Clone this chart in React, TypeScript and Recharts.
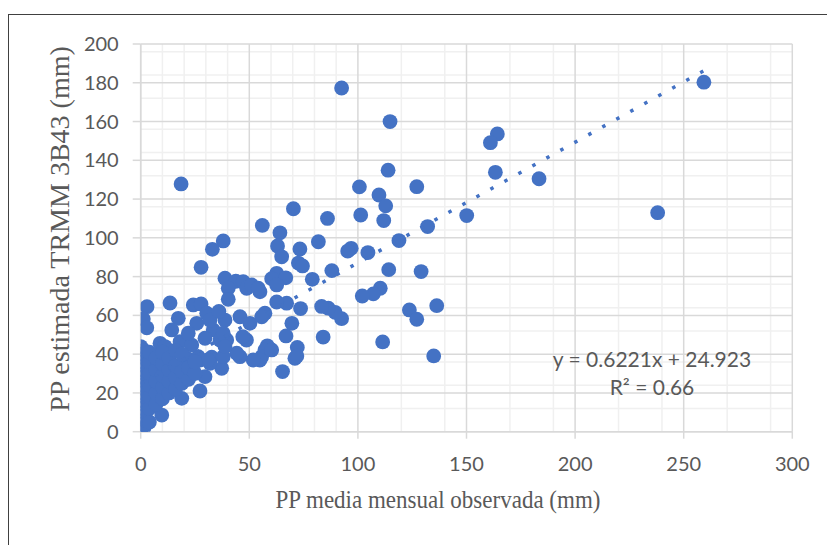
import { ScatterChart, Scatter, XAxis, YAxis, CartesianGrid } from 'recharts';

// PP media mensual observada (mm)
const observed = [
  92.5, 259.3, 18.6, 114.8, 164.2, 161.0, 163.3, 183.4, 113.9, 100.7,
  127.1, 109.7, 112.8, 70.3, 101.3, 111.9, 150.1, 238.0, 132.1, 86.0,
  56.0, 64.1, 81.8, 118.9, 38.0, 96.9, 95.3, 104.6, 73.3, 63.0,
  33.0, 64.9, 72.6, 74.5, 88.0, 114.2, 129.1, 27.8, 79.0, 62.6,
  66.8, 60.3, 38.8, 43.8, 47.2, 110.3, 107.1, 102.0, 123.7, 127.1,
  136.3, 111.4, 134.9, 84.0, 92.5, 89.5, 86.4, 83.3, 73.6, 67.2,
  62.6, 69.6, 66.9, 72.1, 71.0, 71.9, 65.3, 58.3, 57.2, 55.7,
  54.9, 51.8, 45.7, 48.7, 45.7, 50.3, 57.2, 55.7, 48.8, 54.9,
  62.6, 51.1, 54.1, 40.3, 40.3, 60.3,
  2.9, 1.2, 2.8, 13.5, 24.2, 27.8, 17.3, 30.4, 14.3, 25.8,
  38.8, 33.4, 39.6, 8.9, 0.0, 21.2, 32.7, 37.3, 29.6, 27.3,
  18.9, 9.7, 0.5, 44.2, 38.0, 36.5, 38.0, 31.9, 26.5, 31.9,
  38.8, 47.0, 18.1, 23.5, 27.3, 31.0, 36.0, 21.9, 29.6, 11.2,
  0.0, 0.0, 0.0, 0.0, 0.0, 0.0, 0.0, 0.0, 0.0, 0.0, 0.0,
  1.5, 1.5, 1.5, 1.5, 1.5, 1.5, 1.5, 1.5, 1.5, 1.5, 1.5,
  4.0, 4.0, 4.0, 4.0, 4.0, 4.0, 4.0,
  7.0, 7.0, 7.0, 7.0, 7.0,
  10.0, 10.0, 10.0, 10.0, 10.0,
  13.0, 13.0, 13.0, 13.0,
  16.0, 16.0, 16.0, 16.0,
  19.0, 19.0, 19.0,
  22.0, 22.0,
  25.0, 25.0,
];

// PP estimada TRMM 3B43 (mm)
const estimated = [
  177.3, 180.3, 127.8, 160.0, 153.6, 149.1, 133.8, 130.5, 134.9, 126.3,
  126.4, 122.1, 116.5, 115.0, 111.8, 108.9, 111.5, 113.0, 105.8, 110.0,
  106.4, 102.6, 98.0, 98.6, 98.4, 94.6, 93.2, 92.4, 94.3, 95.8,
  94.1, 90.2, 87.0, 85.5, 83.1, 83.6, 82.6, 84.8, 78.6, 81.7,
  79.4, 78.9, 79.2, 77.6, 77.4, 74.0, 71.1, 70.0, 62.8, 58.0,
  65.0, 46.3, 39.1, 48.8, 58.3, 61.6, 63.7, 64.6, 63.5, 66.3,
  66.9, 55.9, 49.4, 43.5, 37.9, 39.0, 31.0, 44.3, 42.2, 38.7,
  37.0, 37.0, 38.7, 47.3, 59.3, 55.9, 61.1, 59.3, 74.0, 72.2,
  75.7, 75.7, 74.0, 74.0, 68.3, 42.2,
  64.5, 58.2, 53.6, 66.4, 65.4, 65.9, 58.5, 61.1, 52.5, 55.9,
  57.6, 52.5, 47.3, 45.6, 43.9, 37.9, 38.4, 32.7, 28.4, 21.0,
  17.2, 8.6, 2.2, 40.5, 38.7, 47.3, 50.8, 57.6, 38.7, 35.3,
  43.9, 49.0, 46.4, 44.7, 37.0, 37.0, 62.0, 50.8, 48.2, 43.9,
  0.5, 4.0, 8.0, 12.0, 16.0, 20.0, 24.0, 28.0, 32.0, 36.0, 40.0,
  2.0, 6.0, 10.0, 14.0, 18.0, 22.0, 26.0, 30.0, 34.0, 38.0, 42.0,
  5.0, 12.0, 18.0, 24.0, 30.0, 36.0, 41.0,
  14.0, 20.0, 26.0, 32.0, 38.0,
  17.0, 23.0, 29.0, 35.0, 41.0,
  20.0, 26.0, 32.0, 38.0,
  22.0, 28.0, 34.0, 42.0,
  25.0, 31.0, 40.0,
  27.0, 33.0,
  30.0, 36.0,
];

const xTicks = [0, 50, 100, 150, 200, 250, 300];
const yTicks = [0, 20, 40, 60, 80, 100, 120, 140, 160, 180, 200];
const xMinor = [10, 20, 30, 40, 60, 70, 80, 90, 110, 120, 130, 140, 160, 170, 180, 190, 210, 220, 230, 240, 260, 270, 280, 290];
const yMinor = [4, 8, 12, 16, 24, 28, 32, 36, 44, 48, 52, 56, 64, 68, 72, 76, 84, 88, 92, 96, 104, 108, 112, 116, 124, 128, 132, 136, 144, 148, 152, 156, 164, 168, 172, 176, 184, 188, 192, 196];

// linear trend shown on the chart
const slope = 0.6221;
const intercept = 24.923;
const trendX = [0, 260];

const points = observed.map((x, i) => ({ x, y: estimated[i] }));
const trend = trendX.map((x) => ({ x, y: slope * x + intercept }));

const BLUE = '#4472c4';
const TEXT = '#595959';
const tickStyle = { fill: TEXT, fontSize: 20, fontFamily: 'Lato' };

export default function App() {
  return (
    <div style={{ position: 'fixed', left: 0, top: 0, width: 827, height: 545, overflow: 'hidden', background: '#fff' }}>
      <div style={{ position: 'absolute', left: 8, top: 14, width: 900, height: 600, border: '1px solid #404040' }} />
      <ScatterChart width={827} height={545} margin={{ top: 44, right: 34.7, bottom: 0, left: 0 }}>
        <CartesianGrid verticalValues={xMinor} horizontalValues={yMinor} stroke="#f0f0f0" strokeWidth={1.5} />
        <CartesianGrid verticalValues={xTicks} horizontalValues={yTicks} stroke="#d9d9d9" strokeWidth={1.5} />
        <XAxis
          dataKey="x"
          type="number"
          domain={[0, 300]}
          ticks={xTicks}
          height={113.3}
          stroke="#d9d9d9"
          strokeWidth={1.5}
          tickSize={7}
          tickMargin={18}
          tick={tickStyle}
          allowDataOverflow
        />
        <YAxis
          dataKey="y"
          type="number"
          domain={[0, 200]}
          ticks={yTicks}
          width={140.7}
          stroke="#d9d9d9"
          strokeWidth={1.5}
          tickSize={8}
          tickMargin={14}
          tick={tickStyle}
          allowDataOverflow
        />
        <Scatter
          data={points}
          isAnimationActive={false}
          shape={(p: any) => <circle cx={p.cx} cy={p.cy} r={7.4} fill={BLUE} />}
        />
        <Scatter
          data={trend}
          isAnimationActive={false}
          line={{ stroke: BLUE, strokeWidth: 3.5, strokeDasharray: '3.5 12.5' }}
          lineType="joint"
          shape={() => <g />}
        />
      </ScatterChart>
      <div style={{ position: 'absolute', left: 652, top: 345, transform: 'translateX(-50%)', whiteSpace: 'nowrap', textAlign: 'center', color: TEXT, fontFamily: 'Lato', fontSize: 21, lineHeight: '28px' }}>
        <div>y = 0.6221x + 24.923</div>
        <div>R² = 0.66</div>
      </div>
      <div style={{ position: 'absolute', left: 438, top: 500, transform: 'translate(-50%, -50%) scaleY(1.1)', whiteSpace: 'nowrap', color: TEXT, fontFamily: 'Liberation Serif', fontSize: 23 }}>
        PP media mensual observada (mm)
      </div>
      <div style={{ position: 'absolute', left: 60, top: 229, transform: 'translate(-50%, -50%) rotate(-90deg)', whiteSpace: 'nowrap', color: TEXT, fontFamily: 'Liberation Serif', fontSize: 28 }}>
        PP estimada TRMM 3B43 (mm)
      </div>
    </div>
  );
}
